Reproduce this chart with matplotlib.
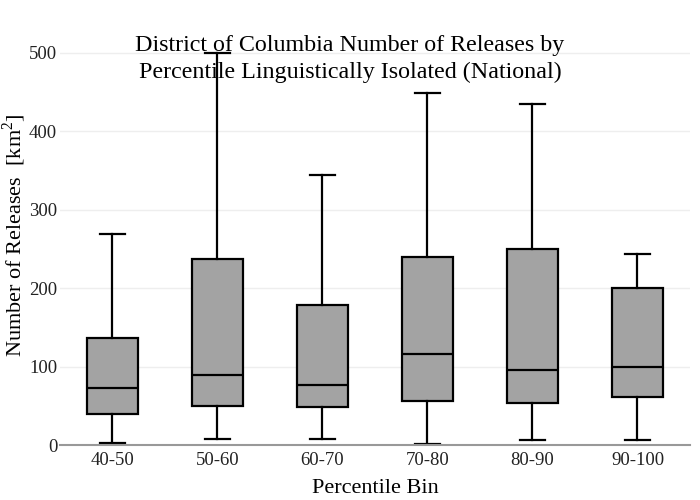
import matplotlib
matplotlib.use("Agg")
import matplotlib.pyplot as plt

# box statistics
bins = ["40-50", "50-60", "60-70", "70-80", "80-90", "90-100"]
lowWhisker = [2, 8, 8, 1, 7, 7]
q1 = [40, 50, 48, 56, 53, 61]
median = [73, 89, 77, 116, 95, 100]
q3 = [136, 237, 178, 239, 250, 200]
highWhisker = [269, 500, 344, 449, 435, 243]

plt.rcParams["font.family"] = ["Liberation Serif", "DejaVu Serif"]

fig = plt.figure(figsize=(7, 5), dpi=100)
ax = fig.add_axes([0.0857, 0.11, 0.9, 0.824])

stats = []
for i in range(len(bins)):
    stats.append({"label": bins[i], "whislo": lowWhisker[i], "q1": q1[i],
                  "med": median[i], "q3": q3[i], "whishi": highWhisker[i]})

ax.bxp(stats, positions=range(len(bins)), widths=0.49, patch_artist=True,
       showfliers=False,
       boxprops=dict(facecolor="#a3a3a3", edgecolor="black", linewidth=1.6),
       medianprops=dict(color="black", linewidth=1.6),
       whiskerprops=dict(color="black", linewidth=1.6),
       capprops=dict(color="black", linewidth=1.6))

ax.set_xlim(-0.5, 5.5)
ax.set_ylim(0, 525)
ax.set_yticks([0, 100, 200, 300, 400, 500])
ax.grid(axis="y", color="#eeeeee", linewidth=1)
ax.set_axisbelow(True)
for side in ["top", "right", "left"]:
    ax.spines[side].set_visible(False)
ax.spines["bottom"].set_color("#999999")
ax.spines["bottom"].set_linewidth(1.5)
ax.tick_params(axis="both", length=0, labelsize=13.5, colors="#222222")
ax.tick_params(axis="x", pad=5)
ax.tick_params(axis="y", pad=2)

ax.set_xlabel("Percentile Bin", fontsize=16, labelpad=7)
ax.set_ylabel("Number of Releases  [km$^{\\mathregular{2}}$]", fontsize=16)
ax.yaxis.set_label_coords(-0.05, 0.51)
fig.text(0.5, 0.882, "District of Columbia Number of Releases by\nPercentile Linguistically Isolated (National)",
         ha="center", va="center", fontsize=17.3, linespacing=1.4)

fig.savefig("out.png", dpi=100)
